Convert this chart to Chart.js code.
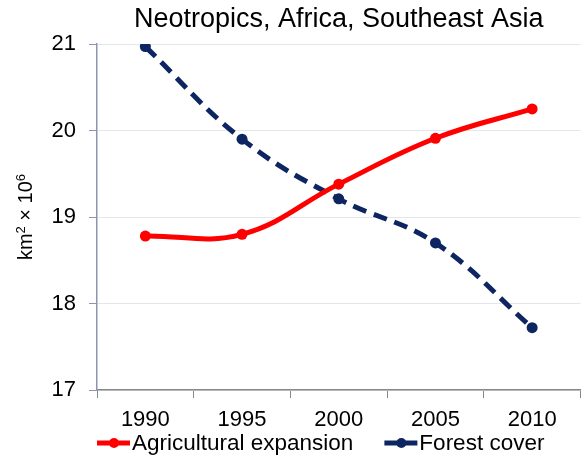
<!DOCTYPE html>
<html>
<head>
<meta charset="utf-8">
<script src="https://cdn.jsdelivr.net/npm/chart.js@4"></script>
<style>
  html, body { margin: 0; padding: 0; background: #fff; }
  #wrap { width: 586px; height: 458px; }
</style>
</head>
<body>
<div id="wrap"><canvas id="grafico"></canvas></div>
<script>
// dados
const anos = ['1990', '1995', '2000', '2005', '2010'];
const agricultura = [18.78, 18.80, 19.38, 19.91, 20.25];
const floresta = [20.97, 19.90, 19.21, 18.70, 17.72];
const ticksY = [17, 18, 19, 20, 21];

const vermelho = '#ff0000';
const azul = '#0d2560';
const fonte = 'Liberation Sans, Arial, sans-serif';

// legenda e titulo do eixo Y desenhados a mao (com sobrescritos de verdade)
const extras = {
    id: 'extras',
    afterDraw(chart) {
        const ctx = chart.ctx;
        const area = chart.chartArea;

        // legenda
        ctx.save();
        ctx.font = '22.5px ' + fonte;
        ctx.textBaseline = 'middle';
        let x = area.left;
        const y = 443;
        chart.data.datasets.forEach(ds => {
            ctx.strokeStyle = ds.borderColor;
            ctx.lineWidth = 5;
            ctx.beginPath();
            ctx.moveTo(x, y);
            ctx.lineTo(x + 33, y);
            ctx.stroke();
            ctx.fillStyle = ds.borderColor;
            ctx.beginPath();
            ctx.arc(x + 17, y, 5, 0, Math.PI * 2);
            ctx.fill();
            ctx.fillStyle = '#000';
            ctx.fillText(ds.label, x + 35, y + 1);
            x += 35 + ctx.measureText(ds.label).width + 31;
        });
        ctx.restore();

        // titulo do eixo Y: km² × 10⁶
        const partes = [
            { t: 'km', s: 20, dy: 0 },
            { t: '2', s: 13, dy: -7 },
            { t: ' \u00d7 10', s: 20, dy: 0 },
            { t: '6', s: 13, dy: -7 }
        ];
        ctx.save();
        let total = 0;
        partes.forEach(p => { ctx.font = p.s + 'px ' + fonte; p.w = ctx.measureText(p.t).width; total += p.w; });
        ctx.translate(25, (area.top + area.bottom) / 2);
        ctx.rotate(-Math.PI / 2);
        ctx.fillStyle = '#000';
        ctx.textBaseline = 'alphabetic';
        let px = -total / 2;
        partes.forEach(p => {
            ctx.font = p.s + 'px ' + fonte;
            ctx.fillText(p.t, px, 7 + p.dy);
            px += p.w;
        });
        ctx.restore();
    }
};

new Chart(document.getElementById('grafico'), {
    type: 'line',
    data: {
        labels: anos,
        datasets: [{
            label: 'Agricultural expansion',
            data: agricultura,
            borderColor: vermelho,
            backgroundColor: vermelho,
            borderWidth: 5,
            pointRadius: 5.5,
            pointBackgroundColor: vermelho,
            pointBorderWidth: 0,
            tension: 0.4
        }, {
            label: 'Forest cover',
            data: floresta,
            borderColor: azul,
            backgroundColor: azul,
            borderWidth: 5,
            borderDash: [14, 8],
            pointRadius: 5.5,
            pointBackgroundColor: azul,
            pointBorderWidth: 0,
            tension: 0.4
        }]
    },
    options: {
        responsive: true,
        maintainAspectRatio: false,
        animation: false,
        layout: { padding: { left: 0, right: 0, top: 0, bottom: 0 } },
        plugins: {
            title: {
                display: true,
                fullSize: false,
                text: 'Neotropics, Africa, Southeast Asia',
                color: '#000',
                font: { family: fonte, size: 27, weight: 'normal' },
                padding: { top: 3, bottom: 8.6 }
            },
            legend: { display: false },
            tooltip: { enabled: false }
        },
        scales: {
            x: {
                offset: true,
                afterFit(axis) { axis.height = 68; },
                grid: {
                    offset: true,
                    drawOnChartArea: false,
                    tickLength: 8,
                    color: '#888'
                },
                border: { color: '#888', width: 1.5 },
                ticks: {
                    color: '#000',
                    font: { family: fonte, size: 22 },
                    padding: 9
                }
            },
            y: {
                min: 17,
                max: 21,
                afterBuildTicks(axis) {
                    axis.ticks = ticksY.map(v => ({ value: v }));
                },
                afterFit(axis) { axis.width = 97; },
                grid: {
                    color: '#e3e6ec',
                    tickColor: '#8a96ad',
                    tickLength: 8
                },
                border: { color: '#8a96ad', width: 1.5 },
                ticks: {
                    color: '#000',
                    font: { family: fonte, size: 22 },
                    padding: 13
                }
            }
        }
    },
    plugins: [extras]
});
</script>
</body>
</html>
